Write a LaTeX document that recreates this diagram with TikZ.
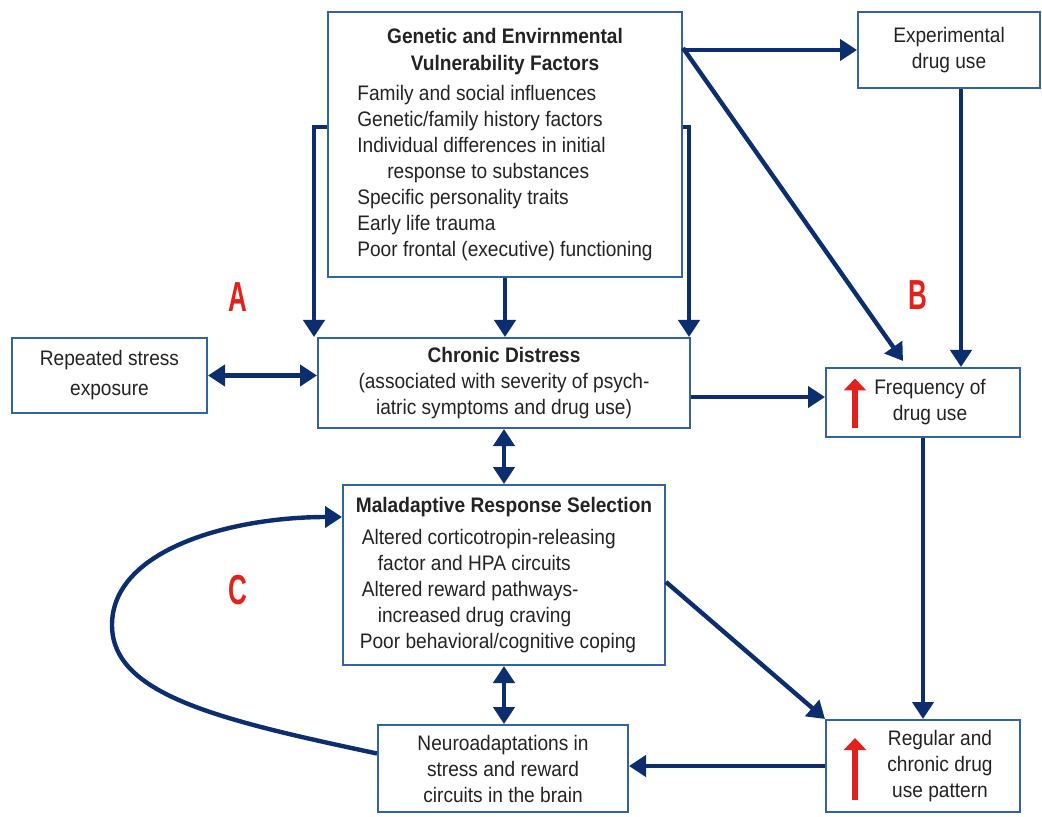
\documentclass[tikz,border=0pt]{standalone}
\usepackage{fontspec}
\setmainfont{Liberation Sans}[FakeStretch=0.91]
\newfontfamily\lblfont{Liberation Sans}[FakeStretch=0.62]
\usetikzlibrary{arrows.meta}
\definecolor{boxblue}{RGB}{50,100,160}
\definecolor{arrowblue}{RGB}{12,45,110}
\definecolor{txtgray}{RGB}{35,35,35}
\definecolor{markred}{RGB}{228,32,28}

\begin{document}
\begin{tikzpicture}[x=0.5pt,y=-0.5pt,
  box/.style={draw=boxblue, line width=1pt, fill=white, text=txtgray, inner sep=2pt,
    align=center, font=\fontsize{10.5}{13}\selectfont},
  arr/.style={draw=arrowblue, line width=2.2pt, -{Triangle[length=8.5pt,width=10.5pt]}},
  dblarr/.style={arr, {Triangle[length=8.5pt,width=10.5pt]}-{Triangle[length=8.5pt,width=10.5pt]}},
  uparr/.style={draw=markred, line width=3pt, -{Triangle[length=6pt,width=11pt]}},
  letterlbl/.style={text=markred, font=\lblfont\bfseries\fontsize{21}{21}\selectfont}]
\useasboundingbox (0,0) rectangle (1042,817);

\node[box, minimum width=177pt, minimum height=132.5pt] (vuln) at (505,144.5)
  {\begin{tabular}{@{}l@{}}
   \multicolumn{1}{@{}c@{}}{\bfseries Genetic and Envirnmental}\\[0.5pt]
   \multicolumn{1}{@{}c@{}}{\bfseries Vulnerability Factors}\\[2pt]
   Family and social influences\\
   Genetic/family history factors\\
   Individual differences in initial\\
   \hspace*{15pt}response to substances\\
   Specific personality traits\\
   Early life trauma\\
   Poor frontal (executive) functioning
   \end{tabular}};
\node[box, minimum width=91pt, minimum height=38pt] (expt) at (949,50) {Experimental\\drug use};
\node[box, minimum width=97.5pt, minimum height=37.5pt] (rse) at (109.5,375.5) {Repeated stress\\[2pt]exposure};
\node[box, minimum width=186pt, minimum height=45pt] (chronic) at (504,383)
  {\textbf{Chronic Distress}\\(associated with severity of psych-\\iatric symptoms and drug use)};
\node[box, minimum width=97pt, minimum height=34.5pt] (freq) at (923,402.5)
  {\hspace*{7pt}\begin{tabular}{@{}c@{}}Frequency of\\drug use\end{tabular}};
\node[box, minimum width=161pt, minimum height=90pt] (mal) at (504,575)
  {\begin{tabular}{@{}l@{}}
   \multicolumn{1}{@{}c@{}}{\bfseries Maladaptive Response Selection}\\[3pt]
   \hspace*{3pt}Altered corticotropin-releasing\\
   \hspace*{11pt}factor and HPA circuits\\
   \hspace*{3pt}Altered reward pathways-\\
   \hspace*{11pt}increased drug craving\\
   \hspace*{2pt}Poor behavioral/cognitive coping
   \end{tabular}};
\node[box, minimum width=125pt, minimum height=43.5pt] (neuro) at (503,768.5)
  {Neuroadaptations in\\stress and reward\\circuits in the brain};
\node[box, minimum width=97pt, minimum height=46pt] (reg) at (923,766)
  {\hspace*{17pt}\begin{tabular}{@{}c@{}}Regular and\\chronic drug\\use pattern\end{tabular}};

\node[letterlbl] (lblA) at (238,297) {A};
\node[letterlbl] (lblB) at (918,295) {B};
\node[letterlbl] (lblC) at (238,590) {C};

\draw[uparr] ([xshift=-34pt,yshift=-12.5pt]freq.center) -- ([xshift=-34pt,yshift=12pt]freq.center);
\draw[uparr] ([xshift=-34pt,yshift=-17pt]reg.center) -- ([xshift=-34pt,yshift=14pt]reg.center);

\draw[arr] (vuln.east |- expt.west) -- (expt.west);
\draw[arr] (vuln.east |- 0,48) -- ([xshift=-10pt,yshift=3pt]freq.north);
\draw[arr] (expt.south -| 961,0) -- (freq.north -| 961,0);
\draw[arr] (vuln.west |- 0,127) -| ([xshift=-1.5pt]chronic.north west);
\draw[arr] (vuln.east |- 0,127) -| ([xshift=-1pt]chronic.north east);
\draw[arr] (vuln.south) -- (vuln.south |- chronic.north);
\draw[dblarr] (rse.east) -- (rse.east -| chronic.west);
\draw[arr] (chronic.east |- 0,397) -- (freq.west |- 0,397);
\draw[dblarr] (chronic.south) -- (mal.north);
\draw[arr] (freq.south) -- (reg.north);
\draw[arr] (mal.east |- 0,582) -- (reg.north west);
\draw[dblarr] (mal.south) -- (mal.south |- neuro.north);
\draw[arr] (reg.west) -- (reg.west -| neuro.east);
\draw[arr] ([yshift=7.5pt]neuro.west) .. controls (220,720) and (112,695) .. (112,625)
  .. controls (112,550) and (230,517) .. (mal.west |- 0,517);
\end{tikzpicture}
\end{document}
